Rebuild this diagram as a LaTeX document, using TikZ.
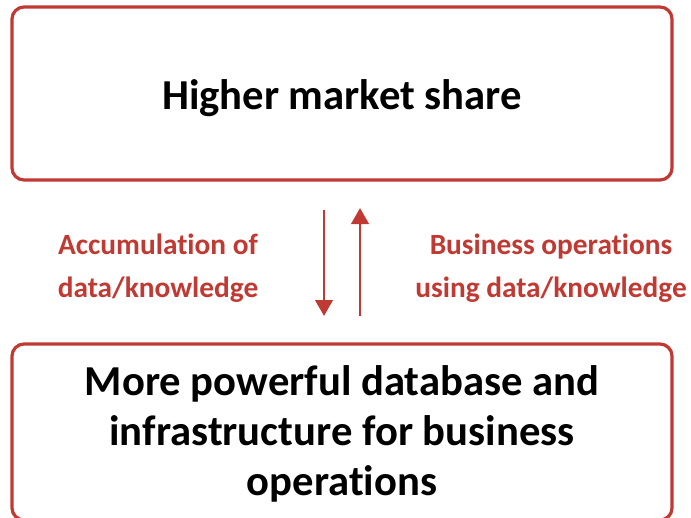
\documentclass[tikz,border=0pt]{standalone}
\usepackage{fontspec}
\setmainfont{Carlito}[Ligatures=NoCommon]
\usetikzlibrary{arrows.meta}
\definecolor{boxred}{RGB}{192,57,50}
\begin{document}
\begin{tikzpicture}[x=0.75pt,y=-0.75pt,
  bigbox/.style={draw=boxred,line width=2.4pt,rounded corners=9pt,fill=white},
  redlabel/.style={text=boxred,font=\bfseries\fontsize{22}{32.25}\selectfont,align=center},
  maintext/.style={font=\bfseries\fontsize{32}{37.5}\selectfont,align=center},
  arr/.style={draw=boxred,line width=2.2pt,-{Triangle[width=13pt,length=12pt]}}]
\useasboundingbox (0,0) rectangle (691,517);
\begin{scope}
\clip (0,0) rectangle (691,517);
\draw[bigbox] (12,7) rectangle (672,180);
\draw[bigbox] (12,344) rectangle (672,520);
\end{scope}
\node[maintext] (top) at (342,98) {Higher market share};
\node[maintext] (bottom) at (342,434) {More powerful database and\\infrastructure for business\\operations};
\coordinate (d1) at (324,210);
\coordinate (d2) at (324,316);
\coordinate (u1) at (360,316);
\coordinate (u2) at (360,208);
\draw[arr] (d1) -- (d2);
\draw[arr] (u1) -- (u2);
\node[redlabel] (left) at (158,268) {Accumulation of\\data/knowledge};
\node[redlabel] (right) at (551,268) {Business operations\\using data/knowledge};
\end{tikzpicture}
\end{document}
